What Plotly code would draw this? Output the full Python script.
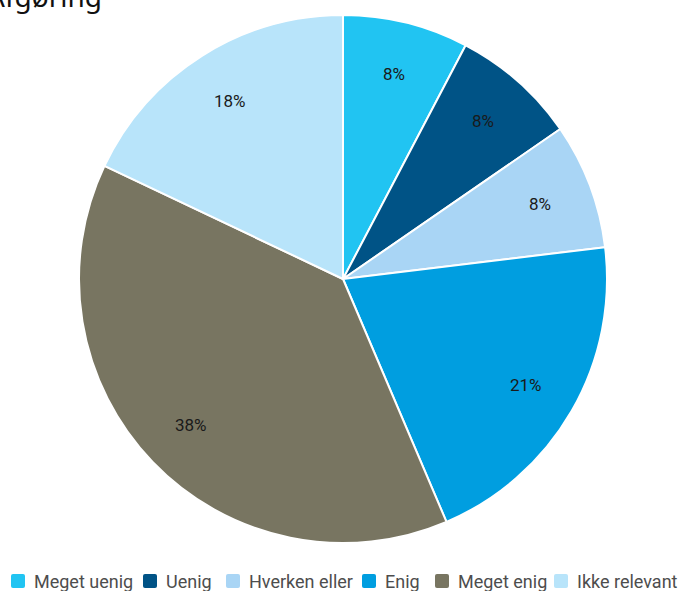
import math
import plotly.graph_objects as go

categories = ["Meget uenig", "Uenig", "Hverken eller", "Enig", "Meget enig", "Ikke relevant"]
counts = [3, 3, 3, 8, 15, 7]
colors = ["#21C4F2", "#005386", "#A9D5F5", "#009EE0", "#787561", "#B8E4FA"]
title_text = "Afgøring"

# legend layout (text start x in px for each entry)
legend_text_x = [32, 164, 247, 383, 456, 575]

W, H = 679, 591
cx, cy, R = 343, 279, 264

fig = go.Figure()
fig.add_trace(go.Pie(
    labels=categories,
    values=counts,
    sort=False,
    direction="clockwise",
    rotation=0,
    marker=dict(colors=colors, line=dict(color="white", width=2)),
    textinfo="none",
    hoverinfo="label+percent",
    showlegend=False,
    domain=dict(x=[(cx - R) / W, (cx + R) / W], y=[1 - (cy + R) / H, 1 - (cy - R) / H]),
))

total = sum(counts)
cum = 0
for v in counts:
    mid = (cum + v / 2) / total * 2 * math.pi
    cum += v
    px = cx + 0.8 * R * math.sin(mid)
    py = cy - 0.8 * R * math.cos(mid)
    fig.add_annotation(
        x=px, y=py, xref="x", yref="y",
        text=f"{round(v / total * 100)}%", showarrow=False,
        font=dict(family="Roboto", size=17, color="#1a1a1a"),
    )

# manual legend
ly_top, ly_bot = 574, 588
for name, col, tx in zip(categories, colors, legend_text_x):
    x0, x1 = tx - 21, tx - 7
    r = 2
    path = (f"M {x0+r},{ly_top} L {x1-r},{ly_top} Q {x1},{ly_top} {x1},{ly_top+r} "
            f"L {x1},{ly_bot-r} Q {x1},{ly_bot} {x1-r},{ly_bot} L {x0+r},{ly_bot} "
            f"Q {x0},{ly_bot} {x0},{ly_bot-r} L {x0},{ly_top+r} Q {x0},{ly_top} {x0+r},{ly_top} Z")
    fig.add_shape(type="path", path=path, xref="x", yref="y",
                  fillcolor=col, line=dict(width=0), layer="above")
    fig.add_annotation(
        x=tx, y=(ly_top + ly_bot) / 2 + 0.5, xref="x", yref="y",
        xanchor="left", yanchor="middle", text=name, showarrow=False,
        font=dict(family="Roboto", size=18, color="#4d4d4d"),
    )

fig.add_annotation(
    x=104, y=17, xref="x", yref="y",
    xanchor="right", yanchor="bottom", text=title_text, showarrow=False,
    font=dict(family="Noto Sans", size=28, color="#111"),
)

fig.update_layout(
    width=W, height=H,
    margin=dict(l=0, r=0, t=0, b=0),
    paper_bgcolor="white",
    plot_bgcolor="rgba(0,0,0,0)",
    showlegend=False,
    xaxis=dict(range=[0, W], visible=False, fixedrange=True),
    yaxis=dict(range=[H, 0], visible=False, fixedrange=True),
)

fig.write_html("out.html", config={"displayModeBar": False},
               post_script="document.body.style.margin='0';document.body.style.overflow='hidden';")
